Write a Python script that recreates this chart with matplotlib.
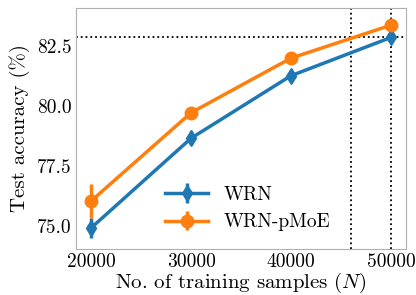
import matplotlib

matplotlib.use("Agg")
import matplotlib.pyplot as plt

plt.rcParams["font.family"] = "cmr10"
plt.rcParams["mathtext.fontset"] = "cm"
plt.rcParams["axes.formatter.use_mathtext"] = True

N_SAMPLES = [20000, 30000, 40000, 50000]
WRN_ACC = [74.92, 78.65, 81.25, 82.84]
WRN_ERR = [0.42, 0.30, 0.25, 0.15]
PMOE_ACC = [76.04, 79.71, 81.98, 83.35]
PMOE_ERR = [0.70, 0.22, 0.12, 0.26]

REF_ACC = 82.84
REF_N = [46000, 50000]

fig = plt.figure(figsize=(4.16, 2.95), dpi=100)
ax = fig.add_axes([0.183, 0.156, 0.793, 0.817])

ax.errorbar(N_SAMPLES, WRN_ACC, yerr=WRN_ERR, marker="d", markersize=8,
            color="#1f77b4", lw=2.5, elinewidth=2.5, capsize=0, label="WRN")
ax.errorbar(N_SAMPLES, PMOE_ACC, yerr=PMOE_ERR, marker="o", markersize=9,
            color="#ff7f0e", lw=2.5, elinewidth=2.5, capsize=0, label="WRN-pMoE")

ax.axhline(REF_ACC, color="black", ls=":", lw=1.3)
for xv in REF_N:
    ax.axvline(xv, color="black", ls=":", lw=1.3)

ax.set_xticks(N_SAMPLES)
ax.set_yticks([75.0, 77.5, 80.0, 82.5])
ax.set_yticklabels(["75.0", "77.5", "80.0", "82.5"])
ax.set_xticklabels([str(n) for n in N_SAMPLES])
ax.tick_params(length=0, labelsize=14, pad=3)
ax.set_xlabel("No. of training samples ($N$)", fontsize=15, labelpad=0)
ax.set_ylabel("Test accuracy (%)", fontsize=15, labelpad=5)

for s in ax.spines.values():
    s.set_color("#b0b0b0")

ax.legend(loc="lower center", bbox_to_anchor=(0.52, 0.0), frameon=False,
          fontsize=14, handlelength=2.2)

fig.savefig("out.png", dpi=100)
